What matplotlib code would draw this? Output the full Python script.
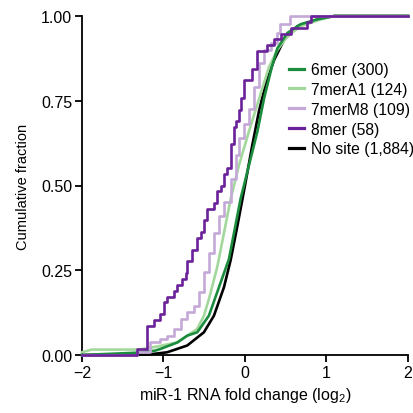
import matplotlib
matplotlib.use("Agg")
import matplotlib.pyplot as plt

plt.rcParams['font.family'] = ['Liberation Sans', 'DejaVu Sans']
plt.rcParams['mathtext.fontset'] = 'custom'
plt.rcParams['mathtext.rm'] = 'Liberation Sans'
plt.rcParams['mathtext.it'] = 'Liberation Sans:italic'

# ---- data: (fold change, cumulative fraction) ----
nosite_x = [-2.0, -1.2, -0.955, -0.709, -0.504, -0.381, -0.258, -0.176, -0.094, 0.0, 0.090, 0.172, 0.254, 0.357, 0.480, 0.643, 0.889, 1.094, 2.0]
nosite_f = [0.0, 0.001, 0.008, 0.028, 0.067, 0.116, 0.200, 0.280, 0.380, 0.500, 0.620, 0.720, 0.800, 0.870, 0.930, 0.970, 0.990, 1.000, 1.0]

m6_x = [-2.0, -1.7, -1.3, -1.1, -1.037, -0.83, -0.709, -0.586, -0.443, -0.30, -0.197, -0.053, 0.049, 0.152, 0.234, 0.336, 0.398, 0.52, 0.684, 0.889, 1.094, 2.0]
m6_f = [0.0, 0.003, 0.007, 0.013, 0.018, 0.037, 0.057, 0.067, 0.116, 0.213, 0.283, 0.462, 0.560, 0.659, 0.757, 0.856, 0.905, 0.950, 0.976, 0.990, 1.000, 1.0]

a1_x = [-2.0, -1.88, -1.3, -1.1, -0.832, -0.586, -0.504, -0.443, -0.34, -0.258, -0.176, -0.074, 0.049, 0.172, 0.295, 0.398, 0.52, 0.684, 0.93, 1.094, 2.0]
a1_f = [0.008, 0.016, 0.016, 0.024, 0.037, 0.077, 0.116, 0.165, 0.260, 0.360, 0.460, 0.560, 0.660, 0.755, 0.850, 0.900, 0.940, 0.970, 0.990, 1.000, 1.0]

m8_x = [-2.0, -1.32, -1.16, -1.037, -0.955, -0.873, -0.791, -0.709, -0.627, -0.566, -0.504, -0.443, -0.381, -0.32, -0.258, -0.176, -0.115, -0.074, -0.012, 0.049, 0.111, 0.172, 0.234, 0.316, 0.398, 0.43, 0.55, 2.0]
m8_f = [0.0, 0.009, 0.037, 0.047, 0.057, 0.077, 0.106, 0.126, 0.146, 0.185, 0.244, 0.300, 0.360, 0.410, 0.450, 0.520, 0.590, 0.640, 0.680, 0.725, 0.790, 0.860, 0.900, 0.920, 0.950, 0.976, 1.000, 1.0]

e8_x = [-2.0, -1.324, -1.20, -1.119, -1.045, -0.996, -0.955, -0.873, -0.832, -0.770, -0.730, -0.709, -0.648, -0.586, -0.545, -0.504, -0.463, -0.381, -0.340, -0.299, -0.258, -0.217, -0.176, -0.135, -0.115, -0.074, -0.053, -0.012, 0.090, 0.152, 0.213, 0.275, 0.357, 0.439, 0.561, 0.766, 0.807, 2.0]
e8_f = [0.0, 0.017, 0.086, 0.103, 0.121, 0.155, 0.172, 0.190, 0.207, 0.224, 0.241, 0.276, 0.310, 0.345, 0.362, 0.397, 0.431, 0.448, 0.483, 0.500, 0.534, 0.552, 0.621, 0.672, 0.690, 0.724, 0.759, 0.810, 0.845, 0.897, 0.897, 0.914, 0.931, 0.948, 0.966, 0.983, 1.000, 1.0]

labels = ['6mer (300)', '7merA1 (124)', '7merM8 (109)', '8mer (58)', 'No site (1,884)']
colors = ['#1b8c3e', '#a3d89c', '#c4a9d8', '#6b2199', '#000000']

fig = plt.figure(figsize=(4.14, 4.14), dpi=100)
ax = fig.add_axes([82/414, 1-356/414, 326/414, 339/414])

lw = 1.9
l_ns, = ax.plot(nosite_x, nosite_f, color=colors[4], lw=lw, clip_on=False, zorder=2)
l_a1, = ax.plot(a1_x, a1_f, color=colors[1], lw=lw, clip_on=False, zorder=3)
l_6, = ax.plot(m6_x, m6_f, color=colors[0], lw=lw, clip_on=False, zorder=4)
l_m8, = ax.plot(m8_x, m8_f, color=colors[2], lw=lw, drawstyle='steps-post', clip_on=False, zorder=5)
l_8, = ax.plot(e8_x, e8_f, color=colors[3], lw=lw, drawstyle='steps-post', clip_on=False, zorder=6)

ax.set_xlim(-2, 2)
ax.set_ylim(0, 1)
ax.set_xticks([-2, -1, 0, 1, 2])
ax.set_yticks([0, 0.25, 0.5, 0.75, 1.0])
ax.set_yticklabels(['0.00', '0.25', '0.50', '0.75', '1.00'])
for s in ['top', 'right']:
    ax.spines[s].set_visible(False)
for s in ['left', 'bottom']:
    ax.spines[s].set_linewidth(1.3)
ax.tick_params(direction='out', length=5, width=1.3, labelsize=11.5, pad=2)

ax.set_xlabel('miR-1 RNA fold change (log$_2$)', fontsize=11.5, labelpad=4)
ax.set_ylabel('Cumulative fraction', fontsize=10.5, labelpad=8)

leg = ax.legend([l_6, l_a1, l_m8, l_8, l_ns], labels, loc='upper left',
                bbox_to_anchor=(289/414, 1-63/414), bbox_transform=fig.transFigure,
                frameon=False, fontsize=11.3, handlelength=0.95, handletextpad=0.45,
                labelspacing=0.31, borderaxespad=0, borderpad=0)
for h in leg.get_lines():
    h.set_linewidth(2.3)

fig.savefig('out.png', dpi=100)
